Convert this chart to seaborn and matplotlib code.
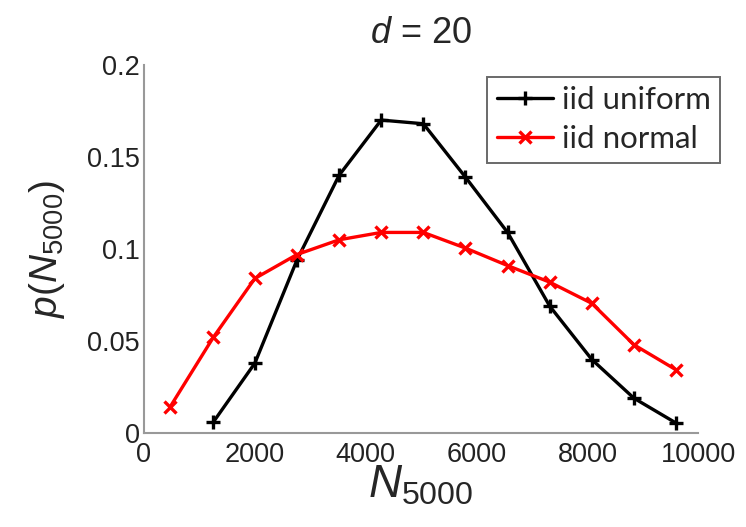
import matplotlib
matplotlib.use("Agg")
import matplotlib.pyplot as plt
import seaborn as sns
import pandas as pd

x_bins = [470, 1250, 2000, 2760, 3520, 4280, 5040, 5800, 6560, 7320, 8080, 8840, 9600]
uniform_x = x_bins[1:]
uniform_p = [0.006, 0.038, 0.094, 0.140, 0.170, 0.168, 0.139, 0.109, 0.069, 0.040, 0.019, 0.0055]
normal_x = x_bins
normal_p = [0.0142, 0.052, 0.084, 0.097, 0.105, 0.109, 0.109, 0.1005, 0.091, 0.082, 0.0705, 0.048, 0.0344]
x_ticks = [0, 2000, 4000, 6000, 8000, 10000]
y_ticks = [0, 0.05, 0.1, 0.15, 0.2]
y_tick_labels = ["0", "0.05", "0.1", "0.15", "0.2"]

sns.set_theme(style="white")
plt.rcParams['font.family'] = ['Liberation Sans', 'DejaVu Sans']
plt.rcParams['mathtext.fontset'] = 'custom'
plt.rcParams['mathtext.rm'] = 'Liberation Sans'
plt.rcParams['mathtext.it'] = 'Liberation Sans:italic'

df_u = pd.DataFrame({"x": uniform_x, "p": uniform_p})
df_n = pd.DataFrame({"x": normal_x, "p": normal_p})

fig = plt.figure(figsize=(7.46, 5.27), dpi=100)
ax = fig.add_axes([0.193, 0.178, 0.743, 0.699])

sns.lineplot(data=df_u, x="x", y="p", ax=ax, color="black", lw=2.4,
             marker="+", markersize=10, markeredgewidth=2.4, markeredgecolor="black",
             label="iid uniform")
sns.lineplot(data=df_n, x="x", y="p", ax=ax, color="red", lw=2.4,
             marker="x", markersize=8, markeredgewidth=2.4, markeredgecolor="red",
             label="iid normal")

ax.set_xlim(0, 10000)
ax.set_ylim(0, 0.2)
ax.set_xticks(x_ticks)
ax.set_xticklabels([str(t) for t in x_ticks])
ax.set_yticks(y_ticks)
ax.set_yticklabels(y_tick_labels)
ax.tick_params(axis='both', direction='in', length=4, width=1, color='#888888',
               labelsize=19.5, labelcolor='#222222')
ax.tick_params(axis='x', pad=6)
ax.tick_params(axis='y', pad=3)

for s in ['top', 'right']:
    ax.spines[s].set_visible(False)
for s in ['left', 'bottom']:
    ax.spines[s].set_color('#999999')
    ax.spines[s].set_linewidth(1.5)

ax.set_title(r'$d$ = 20', fontsize=26, pad=16)
ax.set_xlabel(r'$N_{5000}$', fontsize=33, labelpad=-3)
ax.set_ylabel(r'$p(N_{5000})$', fontsize=28, labelpad=14)

leg = ax.legend(loc='upper right', bbox_to_anchor=(1.04, 0.967),
                prop={'family': 'Lato', 'size': 22.5},
                frameon=True, fancybox=False, handlelength=1.8, borderpad=0.3,
                labelspacing=0.35, handletextpad=0.3, borderaxespad=0.0)
leg.get_frame().set_edgecolor('#444444')
leg.get_frame().set_linewidth(1.4)

fig.savefig("out.png", dpi=100)
